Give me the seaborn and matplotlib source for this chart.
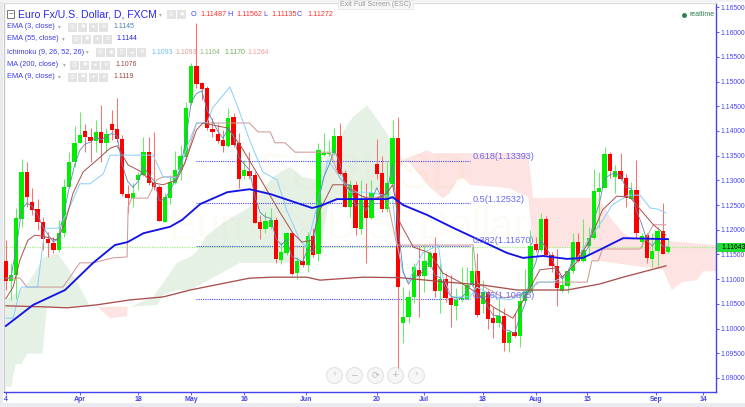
import numpy as np, pandas as pd
import matplotlib
matplotlib.use("Agg")
import matplotlib.pyplot as plt
from matplotlib.patches import Rectangle
import seaborn as sns

# Prices in 1/10000 units
open_ = [11137,11097,11109,11222,11317,11257,11241,11216,11181,11174,11159,11194,11286,11337,11376,11400,11387,11380,11398,11376,
11415,11403,11384,11272,11265,11301,11310,11357,11295,11287,11216,11265,11295,11320,11347,11457,11531,11497,11487,11404,
11394,11382,11370,11428,11376,11309,11319,11311,11216,11202,11206,11220,11139,11153,11193,11112,11137,11129,11187,11151,
11351,11353,11355,11390,11315,11246,11291,11202,11262,11224,11333,11315,11242,11293,11386,11011,11023,11064,11119,11106,
11125,11153,11076,11100,11062,11046,11060,11060,11088,11116,11050,11074,11021,11011,11025,10971,10993,10985,11056,11074,
11171,11159,11222,11149,11127,11076,11086,11116,11175,11137,11167,11183,11276,11285,11353,11307,11319,11305,11262,11280,
11175,11189,11141,11157,11197,11155]
close_ = [11097,11109,11223,11317,11267,11240,11216,11181,11174,11160,11194,11286,11337,11376,11392,11387,11380,11398,11376,11394,
11402,11384,11272,11265,11275,11310,11357,11295,11287,11218,11266,11296,11321,11349,11446,11531,11495,11485,11406,11398,
11380,11370,11426,11372,11303,11321,11309,11214,11202,11218,11220,11141,11155,11193,11110,11137,11129,11187,11149,11361,
11355,11356,11390,11313,11246,11291,11204,11262,11224,11274,11313,11242,11295,11386,11084,11023,11064,11125,11106,11137,
11153,11076,11100,11062,11048,11058,11062,11088,11116,11027,11074,11019,11011,11025,10971,10993,10985,11056,11076,11167,
11159,11222,11149,11127,11082,11088,11116,11175,11137,11159,11183,11278,11285,11353,11319,11319,11303,11264,11280,11193,
11187,11143,11157,11197,11151,11165]
high_ = [11179,11133,11244,11343,11338,11284,11262,11226,11196,11186,11220,11302,11358,11410,11439,11414,11405,11422,11452,11405,
11442,11466,11392,11291,11294,11317,11387,11388,11398,11291,11274,11311,11360,11372,11459,11537,11618,11499,11491,11426,
11414,11402,11446,11436,11396,11341,11357,11317,11230,11236,11244,11226,11175,11195,11193,11145,11165,11195,11204,11376,
11396,11382,11406,11416,11321,11301,11299,11301,11295,11301,11384,11349,11337,11422,11428,11084,11078,11133,11167,11169,
11157,11185,11133,11112,11108,11082,11125,11125,11165,11153,11098,11078,11044,11062,11042,10997,11031,11074,11121,11199,
11185,11234,11228,11155,11161,11104,11123,11193,11193,11222,11206,11323,11317,11367,11357,11331,11355,11313,11297,11341,
11193,11193,11193,11206,11254,11183]
low_ = [11078,11058,11060,11206,11247,11230,11199,11159,11145,11152,11154,11186,11284,11328,11375,11358,11338,11358,11338,11358,
11382,11378,11268,11234,11247,11280,11309,11291,11280,11218,11216,11253,11293,11301,11345,11452,11487,11463,11402,11388,
11376,11357,11367,11367,11284,11303,11303,11214,11181,11193,11202,11133,11131,11149,11108,11100,11125,11114,11145,11137,
11349,11349,11351,11311,11246,11226,11189,11191,11133,11222,11303,11236,11236,11287,10914,10971,11011,11052,11023,11074,
11123,11064,11031,11054,11003,11017,11054,11060,11086,11023,11031,10999,10981,11003,10955,10953,10983,10963,11054,11072,
11155,11155,11147,11114,11046,11074,11072,11112,11135,11135,11149,11181,11204,11285,11305,11274,11301,11246,11262,11183,
11163,11133,11125,11127,11151,11153]
ema3 = [11100,11104,11164,11240,11254,11247,11231,11206,11190,11175,11185,11235,11286,11331,11361,11374,11377,11388,11382,11388,
11395,11390,11331,11298,11286,11298,11328,11311,11299,11259,11262,11279,11300,11324,11385,11458,11476,11481,11443,11421,
11400,11385,11406,11389,11346,11333,11321,11268,11235,11226,11223,11182,11169,11181,11145,11141,11135,11161,11155,11258,
11306,11331,11361,11337,11291,11291,11248,11255,11239,11257,11285,11263,11279,11333,11208,11115,11090,11107,11106,11122,
11137,11107,11103,11082,11065,11062,11062,11075,11095,11061,11067,11043,11027,11026,10998,10996,10990,11023,11050,11108,
11133,11178,11163,11145,11113,11101,11108,11142,11139,11149,11166,11222,11253,11303,11311,11315,11309,11286,11283,11238,
11212,11178,11167,11182,11166,11165]

ema55_i = [0,5.2,11.2,16.5,20.6,23,26,31,33.3,36.7,41.8,46,50,57.8,59.3,62.5,72,73,75,79.5,84.4,91.4,94.6,97.6,101.4,105.9,108.9,112,116.5,125]
ema55_p = [11005,11048,11078,11133,11169,11175,11193,11206,11220,11252,11276,11282,11272,11244,11248,11262,11262,11266,11250,11230,11204,11169,11153,11143,11147,11141,11143,11159,11183,11181]
ma200_i = [0,7,11.6,17.2,23.5,29.7,34.8,46,50.4,56.8,59.3,67.4,74.4,83.3,90,96.5,105.9,112,116.5,124.6]
ma200_p = [11046,11044,11042,11048,11058,11064,11078,11102,11104,11104,11098,11104,11103,11094,11088,11078,11078,11090,11104,11127]
ema9_i = [0,1.4,2.7,4.2,5.5,7,9.7,11.2,12.7,14.6,17.2,19.7,21,23.1,25.3,27.8,29.7,32.3,33.8,36,37.2,41.8,44.2,47.4,51.8,54.2,55.9,57.8,59.3,61.7,63.6,66.8,69.3,71.9,73,74.4,76.9,80,82.5,85.7,88.9,91.9,95.7,98,100.8,104,105,107.8,110.2,112.6,115.3,117.8,120.3,122.2,124.6]
ema9_p = [11060,11084,11139,11179,11189,11187,11179,11214,11274,11317,11341,11365,11370,11331,11319,11295,11291,11301,11335,11402,11416,11406,11372,11315,11234,11193,11175,11179,11240,11291,11291,11270,11260,11274,11291,11214,11165,11153,11112,11094,11072,11044,11021,11064,11119,11123,11104,11135,11179,11240,11268,11266,11234,11210,11189]
kijun_i = [0,2.7,4,10.8,14,16.5,20.2,22.9,23.1,23.8,26.8,28.5,29.7,32.3,33.8,36,46,47.6,49.9,50.8,52.7,54.6,61.2,63,64.9,67.4,71.9,73.8,88.2,89,94,99,100.2,109.7,110.6,111.8,112.6,119.7,122.2,124.6]
kijun_p = [11102,11102,11084,11084,11133,11133,11143,11145,11246,11264,11264,11301,11307,11307,11335,11416,11416,11398,11398,11376,11376,11357,11357,11305,11286,11266,11266,11169,11169,11092,11062,11072,11094,11094,11137,11137,11161,11161,11210,11210]
tenkan_i = [0,1.4,2.7,3,6,7.4,9.9,11.6,14,15.9,18.4,19.7,27.8,29.7,32.3,34.2,36,38,39,42.3,43.8,46,48.5,51.2,53,55.5,56.8,58.7,60.8,63,64.9,68.7,73,73.8,75,75.9,76.8,78.7,81.6,82.5,84.2,87.6,88.9,92.7,95,96,100.8,103.3,105,106.5,109.7,112.7,114.4,117.4,119.7,121.6,123,124.6]
tenkan_p = [11021,11021,11078,11084,11084,11203,11203,11234,11293,11293,11313,11351,11351,11307,11305,11367,11416,11416,11446,11489,11448,11382,11317,11301,11240,11179,11165,11246,11341,11307,11276,11276,11266,11173,11112,11094,11114,11153,11169,11104,11064,11064,11084,11062,11058,11062,11094,11094,11104,11119,11175,11220,11250,11270,11270,11244,11242,11234]

cloud_green1_up_i = [0,3.6,5.2,7,9.7,11.6,14,15.3,15.9]
cloud_green1_up_p = [11058,11084,11108,11143,11153,11125,11084,11058,11044]
cloud_green1_lo_i = [0,1,1.9,3,4,6.9,7.8,15.9]
cloud_green1_lo_p = [10882,10882,10928,10928,10949,10949,11044,11044]
cloud_red1_up_i = [17.2,23]
cloud_red1_up_p = [11044,11044]
cloud_red1_lo_i = [17.2,19.7,22.9,23]
cloud_red1_lo_p = [11044,11021,11025,11044]
cloud_green2_up_i = [23.5,27.8,29.7,32.3,34.8,36,38,41,46,50.4,53.6,56,58.7,61.2,63,65.5,68.2,69.3,71.9,73,75]
cloud_green2_up_p = [11044,11064,11092,11133,11145,11155,11189,11214,11246,11307,11327,11307,11301,11361,11388,11428,11452,11436,11396,11367,11341]
cloud_green2_lo_i = [23.5,28.7,29.7,32.3,34.8,44.2,55.5,59.3,60.8,65.5,72.5,75]
cloud_green2_lo_p = [11044,11048,11068,11078,11078,11133,11133,11153,11246,11280,11280,11341]
cloud_red2_up_i = [75,79.5,80.6,98.6,99.5,112,114,116.5,118.4,134]
cloud_red2_up_p = [11341,11361,11355,11355,11264,11264,11226,11193,11183,11169]
cloud_red2_lo_i = [75,76.3,80,82.5,83.8,85.2,86.3,87.6,95,98.6,99.5,110.2,110.6,124,125.7,127.6,130.4,131.6,134]
cloud_red2_lo_p = [11341,11335,11286,11264,11274,11301,11305,11291,11284,11266,11163,11163,11139,11119,11078,11094,11098,11116,11116]

fib_levels = [1.13393,1.12532,1.11670,1.10605]
fib_names = ["0.618(1.13393)","0.5(1.12532)","0.382(1.11670)","0.236(1.10605)"]
last_price = 1.11643
x_tick_pos = [0,14,25,35,45,56.7,70,79,90,100,109.7,122.7,131.6]
x_tick_lab = ["4","Apr","18","May","16","Jun","20","Jul","18","Aug","15","Sep","14"]
y_ticks = [1.09,1.095,1.10,1.105,1.11,1.115,1.12,1.125,1.13,1.135,1.14,1.145,1.15,1.155,1.16,1.165]

W,H = 745,407
sns.set_theme(style="white")
plt.rcParams['font.family'] = ['Liberation Sans','DejaVu Sans']
fig = plt.figure(figsize=(W/100,H/100),dpi=100,facecolor="white")
AL,AR,AT,AB = 4,716,3,392
ax = fig.add_axes([AL/W,1-AB/H,(AR-AL)/W,(AB-AT)/H])
ax.set_xlim((AL-5.7)/5.3,(AR-5.7)/5.3)
ax.set_ylim(1.1665-0.0002024*AB,1.1665-0.0002024*AT)
BLUE="#4444f0"
P=lambda a: np.array(a)/1e4

def cloud(ui,up,li,lp,c):
    ax.fill(np.r_[ui,li[::-1]],np.r_[P(up),P(lp)[::-1]],color=c,lw=0,zorder=1)
G,R="#e6f1e6","#fde3e1"
cloud(cloud_green1_up_i,cloud_green1_up_p,cloud_green1_lo_i,cloud_green1_lo_p,G)
cloud(cloud_green2_up_i,cloud_green2_up_p,cloud_green2_lo_i,cloud_green2_lo_p,G)
cloud(cloud_red1_up_i,cloud_red1_up_p,cloud_red1_lo_i,cloud_red1_lo_p,R)
cloud(cloud_red2_up_i,cloud_red2_up_p,cloud_red2_lo_i,cloud_red2_lo_p,R)

# watermark
ax.text(362/W,1-176/H,"EURUSD",transform=fig.transFigure,fontsize=36,color="#e8c060",alpha=0.05,ha="center",va="center",zorder=1.5)
ax.text(348/W,1-228/H,"Euro Fx/U.S. Dollar",transform=fig.transFigure,fontsize=30,color="#e8c060",alpha=0.05,ha="center",va="center",zorder=1.5)

idx=np.arange(len(open_))
o,c,h,l=P(open_),P(close_),P(high_),P(low_)
up=c>=o
ax.axhline(last_price,color="#a0ee80",ls=(0,(1,1)),lw=0.9,zorder=2)
for lev in fib_levels:
    ax.hlines(lev,36,87.6,color="#4848ee",ls=(0,(1,1)),lw=0.8,zorder=2)
ax.vlines(idx[up],l[up],h[up],color="#66ee66",lw=0.75,zorder=3)
ax.vlines(idx[~up],l[~up],h[~up],color="#ff7070",lw=0.75,zorder=3)
ax.bar(idx[up],(c-o)[up],bottom=o[up],width=0.82,color="#00ee00",lw=0,zorder=4)
ax.bar(idx[~up],(o-c)[~up],bottom=c[~up],width=0.82,color="#ff0000",lw=0,zorder=4)

def line(i,p,color,lw,z=5):
    df=pd.DataFrame({"i":i,"p":P(p)})
    sns.lineplot(data=df,x="i",y="p",estimator=None,sort=False,color=color,lw=lw,ax=ax,zorder=z)
line(kijun_i,kijun_p,"#cf9a98",0.75)
line(tenkan_i,tenkan_p,"#8fd0fb",0.75)
line(ma200_i,ma200_p,"#a8504e",0.95)
line(ema9_i,ema9_p,"#a8504e",0.7,6)
line(list(idx),ema3,"#5d88b0",0.6,6)
line(ema55_i,ema55_p,"#1414e6",1.35,7)
ax.set_xlabel("");ax.set_ylabel("")

ax.yaxis.tick_right()
ax.set_yticks(y_ticks,[f"{v:.5f}" for v in y_ticks],fontsize=4.85,color=BLUE)
ax.set_xticks(x_tick_pos,x_tick_lab,fontsize=5,color=BLUE,fontweight="bold")
ax.tick_params(axis="y",length=2,width=0.6,color=BLUE,pad=1.4,right=True,left=False)
ax.tick_params(axis="x",length=1.8,width=0.6,color=BLUE,pad=0.8,bottom=True)
for s,col in [("bottom",BLUE),("right",BLUE),("left","#c8c8c8"),("top","#dddddd")]:
    ax.spines[s].set_color(col); ax.spines[s].set_linewidth(1)

def ft(x,y,s,**k):
    k.setdefault("va","center");k.setdefault("ha","left")
    return fig.text(x/W,1-y/H,s,**k)
def box(x,y,w,h,**k):
    fig.add_artist(Rectangle((x/W,1-(y+h)/H),w/W,h/H,transform=fig.transFigure,**k))
# page margins
box(0,403,W,4,color="#e9ebef",lw=0)
box(0,0,3,H,color="#e9ebef",lw=0)
box(0,0,W,2,color="#f2f3f5",lw=0)
# last price tag
box(717,243,28,9,color="#22dd33",lw=0,zorder=10)
ft(721,247.5,"1.11643",fontsize=4.85,color="black",zorder=11)
# fib labels
for s,y in zip(fib_names,[156,199,241,295]):
    ft(473,y,s,fontsize=6.6,color="#6a6af0",zorder=12)

ft(18.5,14.5,"Euro Fx/U.S. Dollar, D, FXCM",fontsize=7.6,color="#2828f0")
box(7,10,7.5,7.5,fill=False,ec="#777777",lw=0.7)
ft(10.75,13.7,"−",fontsize=6,color="#666666",ha="center")
for x,lab in [(191,"O"),(227,"H"),(263,"L"),(297,"C")]:
    ft(x,15,lab,fontsize=5.2,color="#4444ee")
for x,val in [(200,"1.11487"),(236,"1.11562"),(271,"1.11135"),(307,"1.11272")]:
    ft(x,15,val,fontsize=5.2,color="#ff3030")

def squares(x0,y,n,glyphs):
    for k in range(n):
        box(x0+k*10.3,y-4,9,8.5,color="#e3e3e3",lw=0)
        ft(x0+k*10.3+4.5,y,glyphs[k],fontsize=4,color="white",ha="center",fontweight="bold",family="DejaVu Sans")
ft(159,15,"▾",fontsize=4,color="#aaaaaa",family="DejaVu Sans")
squares(167,14,2,"◎✱")
rows=[(27,"EMA (3, close)",59,68,4,"◎✱+×",[(113,"1.1145","#4a7fa8")]),
      (39,"EMA (55, close)",63,72,4,"◎✱+×",[(116,"1.1144","#2626e6")]),
      (52,"Ichimoku (9, 26, 52, 26)",87,96,5,"◎✱▯+×",[(151,"1.1093","#66bbff"),(175,"1.1093","#dd9999"),(199,"1.1164","#88bb77"),(224,"1.1170","#66aa55"),(247,"1.1264","#ff9a9a")]),
      (65,"MA (200, close)",64,70,4,"◎✱+×",[(115,"1.1076","#a04444")]),
      (77,"EMA (9, close)",59,68,4,"◎✱+×",[(113,"1.1119","#a04444")])]
for y,name,cx,sx,n,gl,vals in rows:
    ft(6.7,y,name,fontsize=5.3,color="#3c3cf0")
    ft(cx-1,y,"▾",fontsize=4,color="#aaaaaa",family="DejaVu Sans")
    squares(sx,y,n,gl)
    for vx,v,col in vals:
        ft(vx,y,v,fontsize=5,color=col)

# nav buttons
for cx,g in zip([334,354,375,395,416],["‹","−","⟳","+","›"]):
    ax.plot([(cx-5.7)/5.3],[1.1665-0.0002024*375],marker="o",ms=11.5,mfc="#f4f4f4",mec="#dddddd",mew=0.8,alpha=0.8,zorder=9)
    ft(cx,374.5,g,fontsize=6.5,color="#bbbbbb",ha="center",family="DejaVu Sans",zorder=12)

# full-screen tag & realtime
box(338,0,75,9,color="#f6f6f6",ec="#e4e4e4",lw=0.5)
ft(375.5,4,"Exit Full Screen (ESC)",fontsize=5.0,color="#999999",ha="center")
ft(689,14.5,"realtime",fontsize=5,color="#2f7f4f")
ax.plot([(684-5.7)/5.3],[1.1665-0.0002024*14.5],marker="o",ms=2.5,color="#2f7f4f",zorder=12)

fig.savefig("out.png",dpi=100)
